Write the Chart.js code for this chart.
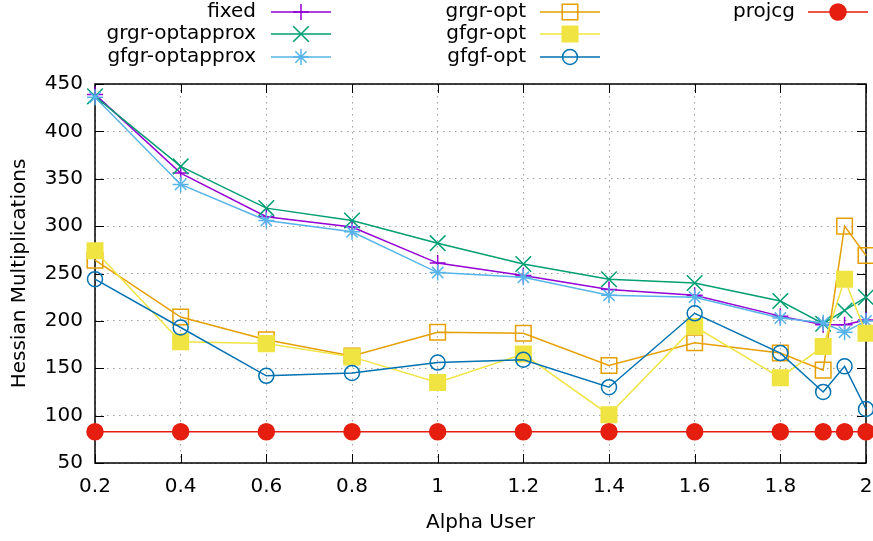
<!DOCTYPE html>
<html>
<head>
<meta charset="utf-8">
<script src="https://cdn.jsdelivr.net/npm/chart.js@4.4.1/dist/chart.umd.min.js"></script>
<style>
  body { margin: 0; background: #fff; }
  #wrap { width: 873px; height: 541px; }
</style>
</head>
<body>
<div id="wrap"><canvas id="hessianChart" width="873" height="541"></canvas></div>
<script>
// valores
const alpha = [0.2, 0.4, 0.6, 0.8, 1.0, 1.2, 1.4, 1.6, 1.8, 1.9, 1.95, 2.0];
const fixed = [439, 356, 310, 299, 261, 248, 233, 227, 205, 196, 196, 201];
const grgrOptapprox = [437, 363, 319, 306, 282, 260, 244, 240, 221, 197, 211, 225];
const gfgrOptapprox = [436, 344, 306, 294, 251, 246, 227, 225, 203, 198, 188, 200];
const grgrOpt = [264, 204, 180, 163, 188, 187, 153, 177, 166, 148, 300, 269];
const gfgrOpt = [274, 178, 176, 162, 135, 165, 101, 194, 140, 173, 244, 187];
const gfgfOpt = [244, 193, 142, 145, 156, 159, 130, 208, 166, 125, 152, 107];
const projcg = [83, 83, 83, 83, 83, 83, 83, 83, 83, 83, 83, 83];
const xTicks = [0.2, 0.4, 0.6, 0.8, 1, 1.2, 1.4, 1.6, 1.8, 2];
const yTicks = [50, 100, 150, 200, 250, 300, 350, 400, 450];

const FONT = "DejaVu Sans";
const FSIZE = 20;

function pares(values) {
  return values.map((v, i) => ({ x: alpha[i], y: v }));
}

const series = [
  { label: "fixed", data: fixed, color: "#9400d3", style: "cross", r: 8, fill: false },
  { label: "grgr-optapprox", data: grgrOptapprox, color: "#009e73", style: "crossRot", r: 11, fill: false },
  { label: "gfgr-optapprox", data: gfgrOptapprox, color: "#56b4e9", style: "star", r: 8, fill: false },
  { label: "grgr-opt", data: grgrOpt, color: "#e69f00", style: "rect", r: 11, fill: false },
  { label: "gfgr-opt", data: gfgrOpt, color: "#f0e442", style: "rect", r: 11, fill: true },
  { label: "gfgf-opt", data: gfgfOpt, color: "#0072b2", style: "circle", r: 7.5, fill: false },
  { label: "projcg", data: projcg, color: "#e51e10", style: "circle", r: 8, fill: true },
];

const datasets = series.map((s, i) => ({
  label: s.label,
  data: pares(s.data),
  borderColor: s.color,
  backgroundColor: s.fill ? s.color : "rgba(0,0,0,0)",
  borderWidth: 1.5,
  pointStyle: s.style,
  pointRadius: s.r,
  pointHoverRadius: s.r,
  pointBorderWidth: 1.5,
  tension: 0,
  clip: false,
  order: series.length - i,
}));

// dibuja un marcador como el de la leyenda
function marcador(ctx, style, x, y, r, color, fill) {
  ctx.save();
  ctx.strokeStyle = color;
  ctx.fillStyle = color;
  ctx.lineWidth = 1.5;
  ctx.beginPath();
  if (style === "cross" || style === "star") {
    ctx.moveTo(x - r, y); ctx.lineTo(x + r, y);
    ctx.moveTo(x, y - r); ctx.lineTo(x, y + r);
  }
  if (style === "crossRot" || style === "star") {
    const d = r * Math.SQRT1_2;
    ctx.moveTo(x - d, y - d); ctx.lineTo(x + d, y + d);
    ctx.moveTo(x - d, y + d); ctx.lineTo(x + d, y - d);
  }
  if (style === "rect") {
    const h = r * Math.SQRT1_2;
    ctx.rect(x - h, y - h, 2 * h, 2 * h);
  }
  if (style === "circle") {
    ctx.arc(x, y, r, 0, Math.PI * 2);
  }
  if (fill && (style === "rect" || style === "circle")) ctx.fill();
  ctx.stroke();
  ctx.restore();
}

const leyendaPlugin = {
  id: "leyendaGnuplot",
  afterDraw(chart) {
    const ctx = chart.ctx;
    const cols = [
      { textRight: 256, lineX: 271 },
      { textRight: 526, lineX: 540 },
      { textRight: 795, lineX: 808 },
    ];
    const rowsY = [12, 34, 57];
    ctx.save();
    ctx.font = FSIZE + "px " + FONT;
    ctx.textAlign = "right";
    ctx.textBaseline = "middle";
    series.forEach((s, i) => {
      const c = cols[Math.floor(i / 3)];
      const y = rowsY[i % 3];
      ctx.fillStyle = "#000";
      ctx.fillText(s.label, c.textRight, y);
      ctx.strokeStyle = s.color;
      ctx.lineWidth = 1.5;
      ctx.beginPath();
      ctx.moveTo(c.lineX, y);
      ctx.lineTo(c.lineX + 60, y);
      ctx.stroke();
      marcador(ctx, s.style, c.lineX + 30, y, s.r, s.color, s.fill);
    });
    ctx.restore();
  },
};

const marcoPlugin = {
  id: "marcoGnuplot",
  beforeDatasetsDraw(chart) {
    const ctx = chart.ctx;
    const a = chart.chartArea;
    const xs = chart.scales.x;
    const ys = chart.scales.y;
    ctx.save();
    ctx.strokeStyle = "#000";
    ctx.lineWidth = 1;
    ctx.beginPath();
    // marcas hacia dentro en los cuatro lados
    xTicks.forEach((v) => {
      const px = Math.round(xs.getPixelForValue(v)) + 0.5;
      ctx.moveTo(px, a.bottom); ctx.lineTo(px, a.bottom - 9);
      ctx.moveTo(px, a.top); ctx.lineTo(px, a.top + 9);
    });
    yTicks.forEach((v) => {
      const py = Math.round(ys.getPixelForValue(v)) + 0.5;
      ctx.moveTo(a.left, py); ctx.lineTo(a.left + 9, py);
      ctx.moveTo(a.right, py); ctx.lineTo(a.right - 9, py);
    });
    ctx.stroke();
    ctx.lineWidth = 1.5;
    ctx.strokeRect(a.left, a.top, a.right - a.left, a.bottom - a.top);
    ctx.restore();
  },
};

const ctx = document.getElementById("hessianChart").getContext("2d");
new Chart(ctx, {
  type: "line",
  data: { datasets: datasets },
  plugins: [marcoPlugin, leyendaPlugin],
  options: {
    responsive: false,
    animation: false,
    events: [],
    layout: { autoPadding: false, padding: { top: 84, right: 7, left: 0, bottom: 0 } },
    plugins: {
      legend: { display: false },
      tooltip: { enabled: false },
    },
    scales: {
      x: {
        type: "linear",
        min: 0.2,
        max: 2,
        afterFit: (scale) => {
          scale.height = 78;
          scale.paddingRight = 0;
          scale.paddingLeft = 0;
        },
        afterBuildTicks: (scale) => {
          scale.ticks = xTicks.map((v) => ({ value: v }));
        },
        ticks: {
          font: { family: FONT, size: FSIZE },
          color: "#000",
          padding: 12,
          maxRotation: 0,
          autoSkip: false,
          callback: (v) => String(Math.round(v * 10) / 10),
        },
        grid: {
          color: "#a0a0a0",
          lineWidth: 1,
          drawTicks: false,
        },
        border: { display: false, dash: [1.5, 4.5] },
        title: {
          display: true,
          text: "Alpha User",
          font: { family: FONT, size: FSIZE },
          color: "#000",
          padding: { top: 0, bottom: 6 },
        },
      },
      y: {
        type: "linear",
        min: 50,
        max: 450,
        afterFit: (scale) => { scale.width = 95; },
        afterBuildTicks: (scale) => {
          scale.ticks = yTicks.map((v) => ({ value: v }));
        },
        ticks: {
          font: { family: FONT, size: FSIZE },
          color: "#000",
          padding: 12,
        },
        grid: {
          color: "#a0a0a0",
          lineWidth: 1,
          drawTicks: false,
        },
        border: { display: false, dash: [1.5, 4.5] },
        title: {
          display: true,
          text: "Hessian Multiplications",
          font: { family: FONT, size: FSIZE },
          color: "#000",
          padding: { top: 8, bottom: 0 },
        },
      },
    },
  },
});
</script>
</body>
</html>
